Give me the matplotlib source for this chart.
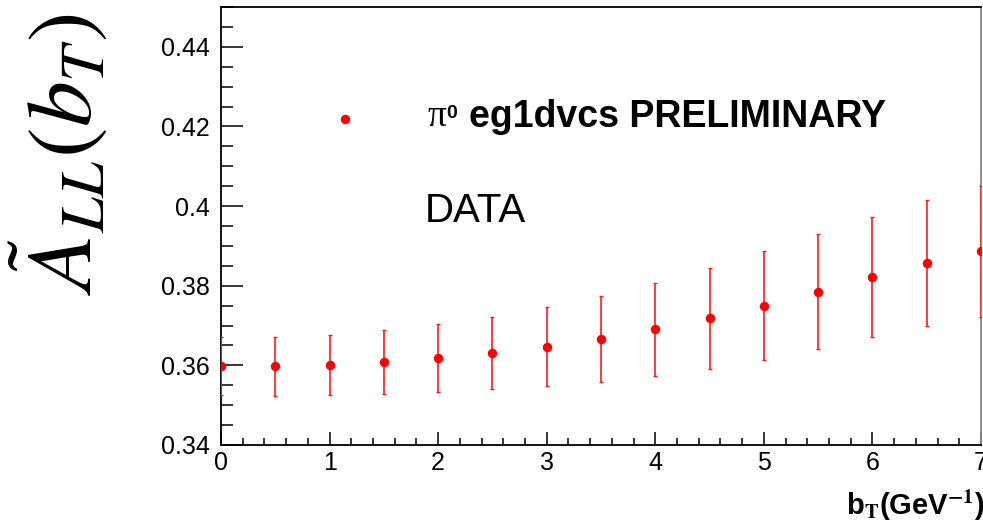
import matplotlib
matplotlib.use("Agg")
import matplotlib.pyplot as plt
from matplotlib.ticker import MultipleLocator, FixedLocator

# ---- data ----
bT = [0.0, 0.5, 1.0, 1.5, 2.0, 2.5, 3.0, 3.5, 4.0, 4.5, 5.0, 5.5, 6.0, 6.5, 7.0]
A_LL = [0.3598, 0.3598, 0.3601, 0.3608, 0.3618, 0.3631, 0.3647, 0.3667,
        0.3691, 0.3718, 0.3750, 0.3785, 0.3822, 0.3858, 0.3886]
A_err = [0.0073, 0.0074, 0.0076, 0.0080, 0.0085, 0.0091, 0.0099, 0.0108,
         0.0117, 0.0127, 0.0136, 0.0145, 0.0151, 0.0158, 0.0165]
yticks = [0.34, 0.36, 0.38, 0.40, 0.42, 0.44]
ytick_labels = ["0.34", "0.36", "0.38", "0.4", "0.42", "0.44"]
xticks = [0, 1, 2, 3, 4, 5, 6, 7]
xtick_labels = ["0", "1", "2", "3", "4", "5", "6", "7"]

plt.rcParams['font.family'] = ['Liberation Sans', 'DejaVu Sans']
plt.rcParams['mathtext.fontset'] = 'stix'

W, H = 983, 527
fig = plt.figure(figsize=(W / 100, H / 100), dpi=100)
ax = fig.add_axes([221 / W, 1 - 445 / H, (981 - 221) / W, (445 - 7) / H])

ax.errorbar(bT, A_LL, yerr=A_err, fmt='o', color='#ff0000', ecolor='#ff1a1a',
            markersize=5.8, elinewidth=1.2, capsize=1.6, capthick=1.0, zorder=3)

ax.set_xlim(0, 7)
ax.set_ylim(0.34, 0.45)

ax.yaxis.set_major_locator(FixedLocator(yticks))
ax.set_yticklabels(ytick_labels)
ax.yaxis.set_minor_locator(MultipleLocator(0.005))
ax.xaxis.set_major_locator(FixedLocator(xticks))
ax.set_xticklabels(xtick_labels)
ax.xaxis.set_minor_locator(MultipleLocator(0.2))

ax.tick_params(axis='y', which='major', direction='in', length=15.8, width=1.1,
               labelsize=18, pad=8)
ax.tick_params(axis='y', which='minor', direction='in', length=8.6, width=1.1)
ax.tick_params(axis='x', which='major', direction='in', length=9.4, width=1.1,
               labelsize=18, pad=4)
ax.tick_params(axis='x', which='minor', direction='in', length=4.7, width=1.1)
ax.tick_params(top=False, right=False, which='both')

for s in ['left', 'bottom', 'top']:
    ax.spines[s].set_linewidth(1.3)
ax.spines['right'].set_linewidth(1.3)
ax.spines['right'].set_color('#888888')

# legend-like annotation
ax.plot([1.14], [0.4218], 'o', color='#ff0000', markersize=5.8, clip_on=False)
fig.text(427 / W, 1 - 126 / H, 'π', fontsize=27, ha='left', va='baseline',
         family=['Liberation Serif', 'DejaVu Serif'])
fig.text(446 / W, 1 - 118 / H, '0', fontsize=14, fontweight='bold',
         ha='left', va='baseline')
fig.text(469 / W, 1 - 127 / H, 'eg1dvcs PRELIMINARY', fontsize=27,
         fontweight='bold', ha='left', va='baseline')
fig.text(425 / W, 1 - 222 / H, 'DATA', fontsize=29, ha='left', va='baseline')

# axis titles
fig.text(60 / W, 1 - 154 / H, r'$\tilde{A}_{LL}(b_T)$', fontsize=66, rotation=90,
         ha='center', va='center')
fig.text(985 / W, 1 - 515 / H, r'b$_\mathbf{T}$(GeV$^{\mathbf{-1}}$)', fontsize=21,
         fontweight='bold', ha='right', va='baseline')

fig.savefig('out.png', dpi=100)
